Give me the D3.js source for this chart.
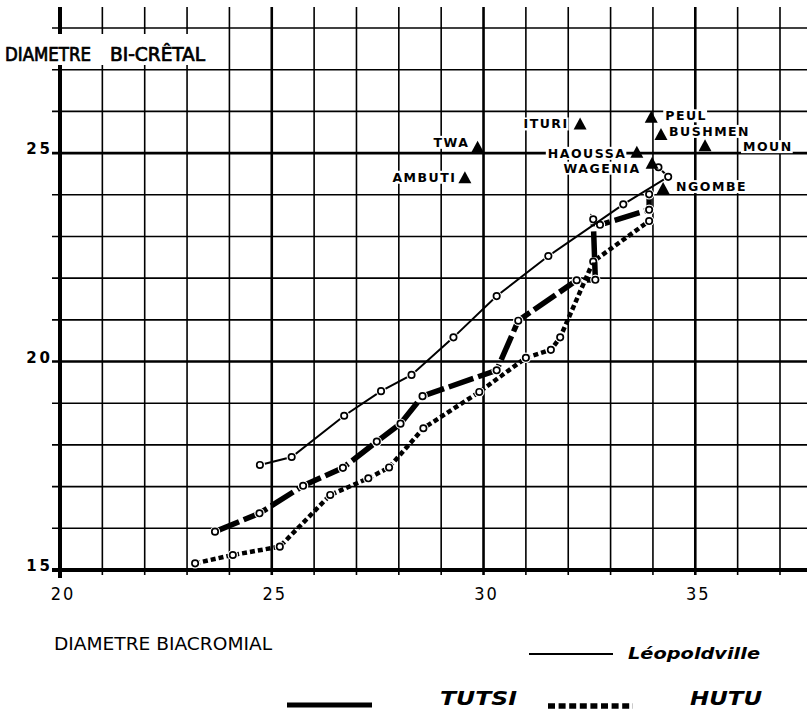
<!DOCTYPE html>
<html>
<head>
<meta charset="utf-8">
<script src="https://cdn.jsdelivr.net/npm/d3@7/dist/d3.min.js"></script>
<style>
html, body { margin: 0; padding: 0; background: #fff; }
svg { display: block; }
</style>
</head>
<body>
<div id="chart"></div>
<script>
// values: [diametre biacromial, diametre bi-cretal]
var leopoldville = [[24.72,17.52],[25.47,17.71],[26.71,18.70],[27.58,19.29],[28.30,19.68],[29.29,20.58],
    [30.31,21.57],[31.53,22.53],[33.30,23.77],[34.36,24.43],[34.13,24.66]];
var tutsi = [[23.66,15.92],[24.71,16.36],[25.74,17.02],[26.68,17.45],[27.48,18.08],[28.04,18.51],
    [28.56,19.17],[30.31,19.79],[30.82,20.98],[32.20,21.95],[32.64,21.96],[32.59,23.41],
    [32.75,23.28],[33.91,23.64],[33.91,24.01]];
var hutu = [[23.19,15.16],[24.08,15.36],[25.19,15.56],[26.38,16.80],[27.28,17.20],[27.77,17.46],
    [28.58,18.40],[29.90,19.27],[31.00,20.09],[31.59,20.28],[31.81,20.58],[32.59,22.40],[33.91,23.37]];

var groupNames = ["TWA","AMBUTI","ITURI","PEUL","BUSHMEN","MOUN","HAOUSSA","WAGENIA","NGOMBE"];
var groupX = [29.86,29.56,32.28,33.96,34.19,35.23,33.62,33.98,34.24];
var groupY = [25.15,24.42,25.71,25.87,25.46,25.19,25.03,24.77,24.16];

var xTicks = [20,25,30,35];
var yTicks = [15,20,25];
var xTitle = "DIAMETRE BIACROMIAL";
var yTitle = ["DIAMETRE","BI-CRÊTAL"];
var legendNames = ["Léopoldville","TUTSI","HUTU"];

var W = 807, H = 720;
var x = d3.scaleLinear().domain([20,37]).range([60,780]);
var y = d3.scaleLinear().domain([15,28]).range([570,28]);

var svg = d3.select("#chart").append("svg")
    .attr("width", W)
    .attr("height", H);
svg.append("rect").attr("width", W).attr("height", H).attr("fill", "#fff");

var gGrid = svg.append("g").attr("class", "grid");
var gBoxes = svg.append("g").attr("class", "label-boxes");
var gCurves = svg.append("g").attr("class", "curves");
var gTri = svg.append("g").attr("class", "groups");
var gText = svg.append("g").attr("class", "texts");

// grid
function gridWidth(v, first) {
    if (v === first) return 4;
    if (v % 5 === 0) return 2.6;
    return 1.6;
}
gGrid.selectAll("line.v").data(d3.range(20, 38)).enter().append("line")
    .attr("class", "v")
    .attr("x1", function(d) { return x(d); })
    .attr("x2", function(d) { return x(d); })
    .attr("y1", 7)
    .attr("y2", function(d) { return d === 20 ? 578 : 575; })
    .attr("stroke", "#000")
    .attr("stroke-width", function(d) { return gridWidth(d, 20); });
gGrid.selectAll("line.h").data(d3.range(15, 29)).enter().append("line")
    .attr("class", "h")
    .attr("x1", 52)
    .attr("x2", W)
    .attr("y1", function(d) { return y(d); })
    .attr("y2", function(d) { return y(d); })
    .attr("stroke", "#000")
    .attr("stroke-width", function(d) { return gridWidth(d, 15); });

// white panel behind the y title
gGrid.append("rect").attr("x", 0).attr("y", 34).attr("width", 222).attr("height", 31).attr("fill", "#fff");

// tick labels
gText.selectAll("text.yt").data(yTicks).enter().append("text")
    .attr("class", "yt")
    .attr("x", 53)
    .attr("y", function(d) { return y(d) + 1; })
    .attr("text-anchor", "end")
    .attr("font-family", "DejaVu Sans")
    .attr("font-weight", "bold")
    .attr("font-size", 15)
    .attr("letter-spacing", 3)
    .text(function(d) { return d; });
gText.selectAll("text.xt").data(xTicks).enter().append("text")
    .attr("class", "xt")
    .attr("x", function(d) { return x(d) + 3; })
    .attr("y", 600)
    .attr("text-anchor", "middle")
    .attr("font-family", "DejaVu Sans Condensed, DejaVu Sans")
    .attr("font-size", 18)
    .attr("letter-spacing", 2)
    .text(function(d) { return d; });

// axis titles
gText.append("text").attr("x", 5).attr("y", 60.7)
    .attr("font-family", "DejaVu Sans Condensed, DejaVu Sans")
    .attr("stroke", "#000").attr("stroke-width", 0.7)
    .attr("font-size", 19).attr("textLength", 86).attr("lengthAdjust", "spacingAndGlyphs")
    .text(yTitle[0]);
gText.append("text").attr("x", 110).attr("y", 60.7)
    .attr("font-family", "DejaVu Sans Condensed, DejaVu Sans")
    .attr("stroke", "#000").attr("stroke-width", 0.7)
    .attr("font-size", 19).attr("textLength", 95).attr("lengthAdjust", "spacingAndGlyphs")
    .text(yTitle[1]);
gText.append("text").attr("x", 54).attr("y", 650)
    .attr("font-family", "DejaVu Sans Condensed, DejaVu Sans")
    .attr("font-size", 18).attr("textLength", 218).attr("lengthAdjust", "spacingAndGlyphs")
    .text(xTitle);

// curves
var line = d3.line().x(function(d) { return x(d[0]); }).y(function(d) { return y(d[1]); });
var series = [
    {data: hutu, width: 4.5, dash: "5,3"},
    {data: tutsi, width: 5.5, dash: "26,5"},
    {data: leopoldville, width: 2, dash: null}
];
series.forEach(function(s) {
    var g = gCurves.append("g");
    g.append("path").datum(s.data)
        .attr("d", line)
        .attr("fill", "none")
        .attr("stroke", "#000")
        .attr("stroke-width", s.width)
        .attr("stroke-dasharray", s.dash);
    g.selectAll("circle.halo").data(s.data).enter().append("circle")
        .attr("class", "halo")
        .attr("cx", function(d) { return x(d[0]); })
        .attr("cy", function(d) { return y(d[1]); })
        .attr("r", 5.2)
        .attr("fill", "#fff");
    g.selectAll("circle.pt").data(s.data).enter().append("circle")
        .attr("class", "pt")
        .attr("cx", function(d) { return x(d[0]); })
        .attr("cy", function(d) { return y(d[1]); })
        .attr("r", 3.2)
        .attr("fill", "#fff")
        .attr("stroke", "#000")
        .attr("stroke-width", 1.7);
});

// other populations: triangles + names
var labelPos = {
    TWA: ["end", -8.2, 0], AMBUTI: ["end", -8.5, 4.5], ITURI: ["end", -11.5, 5],
    PEUL: ["start", 14, 3.5], BUSHMEN: ["start", 8, 2], MOUN: ["start", 38, 6],
    HAOUSSA: ["end", -10.5, 6], WAGENIA: ["end", -11.5, 10], NGOMBE: ["start", 13, 3]
};
var groups = groupNames.map(function(n, i) { return {name: n, x: groupX[i], y: groupY[i]}; });

gTri.selectAll("path").data(groups).enter().append("path")
    .attr("d", "M0,-6L6.5,6L-6.5,6Z")
    .attr("transform", function(d) { return "translate(" + x(d.x) + "," + y(d.y) + ")"; })
    .attr("fill", "#000");

var names = gText.selectAll("text.grp").data(groups).enter().append("text")
    .attr("class", "grp")
    .attr("x", function(d) { return x(d.x) + labelPos[d.name][1]; })
    .attr("y", function(d) { return y(d.y) + labelPos[d.name][2]; })
    .attr("text-anchor", function(d) { return labelPos[d.name][0]; })
    .attr("font-family", "DejaVu Sans")
    .attr("font-weight", "bold")
    .attr("font-size", 12.5)
    .attr("letter-spacing", 1.5)
    .text(function(d) { return d.name; });

names.each(function() {
    var b = this.getBBox();
    gBoxes.append("rect")
        .attr("x", b.x - 2).attr("y", b.y + 1)
        .attr("width", b.width + 2).attr("height", b.height - 2)
        .attr("fill", "#fff");
});

// legend
var gLeg = svg.append("g").attr("class", "legend");
gLeg.append("line").attr("x1", 529).attr("x2", 613).attr("y1", 654).attr("y2", 654)
    .attr("stroke", "#000").attr("stroke-width", 2);
gLeg.append("text").attr("x", 628).attr("y", 659)
    .attr("font-family", "DejaVu Sans").attr("font-style", "italic").attr("font-weight", "bold")
    .attr("font-size", 16).attr("textLength", 132).attr("lengthAdjust", "spacingAndGlyphs")
    .text(legendNames[0]);
gLeg.append("line").attr("x1", 287).attr("x2", 372).attr("y1", 705).attr("y2", 705)
    .attr("stroke", "#000").attr("stroke-width", 5);
gLeg.append("text").attr("x", 440).attr("y", 705)
    .attr("font-family", "DejaVu Sans").attr("font-style", "italic").attr("font-weight", "bold")
    .attr("font-size", 20).attr("textLength", 77).attr("lengthAdjust", "spacingAndGlyphs")
    .text(legendNames[1]);
gLeg.append("line").attr("x1", 548).attr("x2", 633).attr("y1", 706).attr("y2", 706)
    .attr("stroke", "#000").attr("stroke-width", 5.5).attr("stroke-dasharray", "7,3.6");
gLeg.append("text").attr("x", 690).attr("y", 705)
    .attr("font-family", "DejaVu Sans").attr("font-style", "italic").attr("font-weight", "bold")
    .attr("font-size", 20).attr("textLength", 72).attr("lengthAdjust", "spacingAndGlyphs")
    .text(legendNames[2]);
</script>
</body>
</html>
